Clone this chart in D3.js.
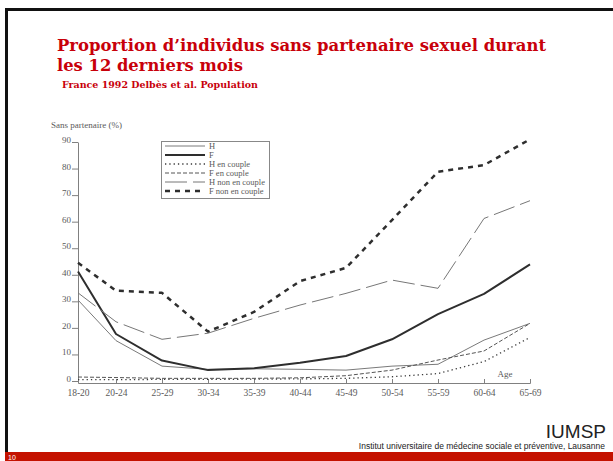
<!DOCTYPE html>
<html>
<head>
<meta charset="utf-8">
<script src="https://cdn.jsdelivr.net/npm/d3@7"></script>
<style>
  body { margin: 0; background: #fff; overflow: hidden; }
</style>
</head>
<body>
<script>
// DATA (%)
const ageGroups = ['18-20', '20-24', '25-29', '30-34', '35-39', '40-44', '45-49', '50-54', '55-59', '60-64', '65-69'];
const yTicks = [0, 10, 20, 30, 40, 50, 60, 70, 80, 90];
const seriesNames = ['H', 'F', 'H en couple', 'F en couple', 'H non en couple', 'F non en couple'];
const hommes = [30.5, 15.2, 5.6, 4.4, 4.6, 4.4, 4.1, 5.6, 6.3, 15.4, 21.7];
const femmes = [41.2, 17.7, 7.7, 4.1, 4.8, 6.9, 9.4, 15.7, 25.2, 32.8, 43.9];
const hommesCouple = [0.5, 0.5, 0.6, 0.6, 0.7, 0.8, 1.0, 1.6, 2.8, 7.3, 16.4];
const femmesCouple = [1.5, 1.3, 1.0, 1.0, 1.0, 1.2, 2.0, 4.1, 7.9, 11.3, 21.7];
const hommesSeuls = [33.2, 22.3, 15.7, 18.0, 23.6, 28.6, 33.0, 38.0, 34.9, 61.2, 67.9];
const femmesSeules = [44.5, 34.0, 33.2, 18.6, 26.0, 37.6, 42.6, 60.6, 78.8, 81.3, 91.0];

const W = 613, H = 461;
const serif = '"Liberation Serif", "Times New Roman", serif';
const slab = '"DejaVu Serif", "Liberation Serif", serif';
const sans = '"Liberation Sans Narrow", "Liberation Sans", Arial, sans-serif';

const svg = d3.select('body').append('svg')
  .attr('width', W)
  .attr('height', H);

// SLIDE FRAME
svg.append('rect').attr('width', W).attr('height', H).attr('fill', '#fff');
svg.append('path')
  .attr('d', `M6.5,${H} V9.5 H${W}`)
  .attr('fill', 'none')
  .attr('stroke', '#111')
  .attr('stroke-width', 3);

// TITLE
const red = '#c8000a';
svg.append('text')
  .attr('x', 57).attr('y', 51)
  .attr('fill', red)
  .attr('font-family', slab)
  .attr('font-weight', 'bold')
  .attr('font-size', 17.5)
  .attr('textLength', 489)
  .attr('lengthAdjust', 'spacingAndGlyphs')
  .text('Proportion d\u2019individus sans partenaire sexuel durant');
svg.append('text')
  .attr('x', 57).attr('y', 71)
  .attr('fill', red)
  .attr('font-family', slab)
  .attr('font-weight', 'bold')
  .attr('font-size', 17.5)
  .attr('textLength', 186)
  .attr('lengthAdjust', 'spacingAndGlyphs')
  .text('les 12 derniers mois');

svg.append('text')
  .attr('x', 62).attr('y', 88)
  .attr('fill', red)
  .attr('font-family', slab)
  .attr('font-weight', 'bold')
  .attr('font-size', 8.5)
  .attr('textLength', 196)
  .attr('lengthAdjust', 'spacingAndGlyphs')
  .text('France 1992 Delbès et al. Population');

// SCALES
const x = d3.scaleLinear().domain([0, 1, 10]).range([78, 116, 530]);
const y = d3.scaleLinear().domain([0, 90]).range([381, 142]);

const axisColor = '#808080';
const textColor = '#5a5a5a';

// Y-AXIS
const yAxis = svg.append('g')
  .attr('transform', 'translate(78,0)')
  .call(d3.axisLeft(y).tickValues(yTicks).tickSize(6).tickSizeOuter(0).tickPadding(1));
yAxis.selectAll('text')
  .attr('dy', '0.05em')
  .attr('font-family', serif)
  .attr('font-size', 9)
  .attr('fill', textColor);

svg.append('text')
  .attr('x', 51).attr('y', 128)
  .attr('font-family', serif)
  .attr('font-size', 9)
  .attr('fill', textColor)
  .text('Sans partenaire (%)');

// X-AXIS
const xAxis = svg.append('g')
  .attr('transform', 'translate(0,383)')
  .call(d3.axisBottom(x)
    .tickValues(d3.range(ageGroups.length))
    .tickFormat(i => ageGroups[i])
    .tickSize(-4)
    .tickSizeOuter(-4)
    .tickPadding(6));
xAxis.selectAll('text')
  .attr('font-family', serif)
  .attr('font-size', 9.5)
  .attr('fill', textColor);

svg.append('text')
  .attr('x', 505).attr('y', 377)
  .attr('text-anchor', 'middle')
  .attr('font-family', serif)
  .attr('font-size', 9)
  .attr('fill', textColor)
  .text('Age');

[yAxis, xAxis].forEach(a => {
  a.selectAll('path, line').attr('stroke', axisColor);
});

// LINES
const styles = [
  { values: hommes, stroke: '#7a7a7a', width: 1, dash: null },
  { values: femmes, stroke: '#2e2e2e', width: 2, dash: null },
  { values: hommesCouple, stroke: '#3a3a3a', width: 1.3, dash: '1.3,3' },
  { values: femmesCouple, stroke: '#555', width: 1, dash: '4,2' },
  { values: hommesSeuls, stroke: '#777', width: 1, dash: '22,6' },
  { values: femmesSeules, stroke: '#2e2e2e', width: 2.5, dash: '5,5' }
];

const line = d3.line()
  .x((d, i) => x(i))
  .y(d => y(d));

svg.append('g')
  .selectAll('path')
  .data(styles)
  .enter()
  .append('path')
  .attr('d', d => line(d.values))
  .attr('fill', 'none')
  .attr('stroke', d => d.stroke)
  .attr('stroke-width', d => d.width)
  .attr('stroke-dasharray', d => d.dash)
  .attr('stroke-linejoin', 'round');

// LEGEND
const legend = svg.append('g');
legend.append('rect')
  .attr('x', 161.5).attr('y', 141.5)
  .attr('width', 108).attr('height', 57)
  .attr('fill', '#fff')
  .attr('stroke', '#888')
  .attr('stroke-width', 1);

const rows = legend.selectAll('g.row')
  .data(styles)
  .enter()
  .append('g')
  .attr('class', 'row')
  .attr('transform', (d, i) => `translate(0,${146 + i * 9})`);

rows.append('line')
  .attr('x1', 165).attr('x2', 205)
  .attr('stroke', d => d.stroke)
  .attr('stroke-width', d => d.width)
  .attr('stroke-dasharray', d => d.dash);

rows.append('text')
  .attr('x', 209).attr('dy', '0.32em')
  .attr('font-family', serif)
  .attr('font-size', 8.5)
  .attr('fill', textColor)
  .text((d, i) => seriesNames[i]);

// FOOTER
svg.append('text')
  .attr('x', 606).attr('y', 438)
  .attr('text-anchor', 'end')
  .attr('font-family', sans)
  .attr('font-size', 19)
  .attr('fill', '#222')
  .text('IUMSP');

svg.append('text')
  .attr('x', 605).attr('y', 449)
  .attr('text-anchor', 'end')
  .attr('font-family', sans)
  .attr('font-size', 8.5)
  .attr('fill', '#222')
  .text('Institut universitaire de médecine sociale et préventive, Lausanne');

svg.append('rect')
  .attr('x', 5).attr('y', 452)
  .attr('width', W - 5).attr('height', H - 452)
  .attr('fill', '#c41200');

svg.append('text')
  .attr('x', 8).attr('y', 459.5)
  .attr('font-family', sans)
  .attr('font-size', 7)
  .attr('fill', '#fff')
  .text('10');
</script>
</body>
</html>
